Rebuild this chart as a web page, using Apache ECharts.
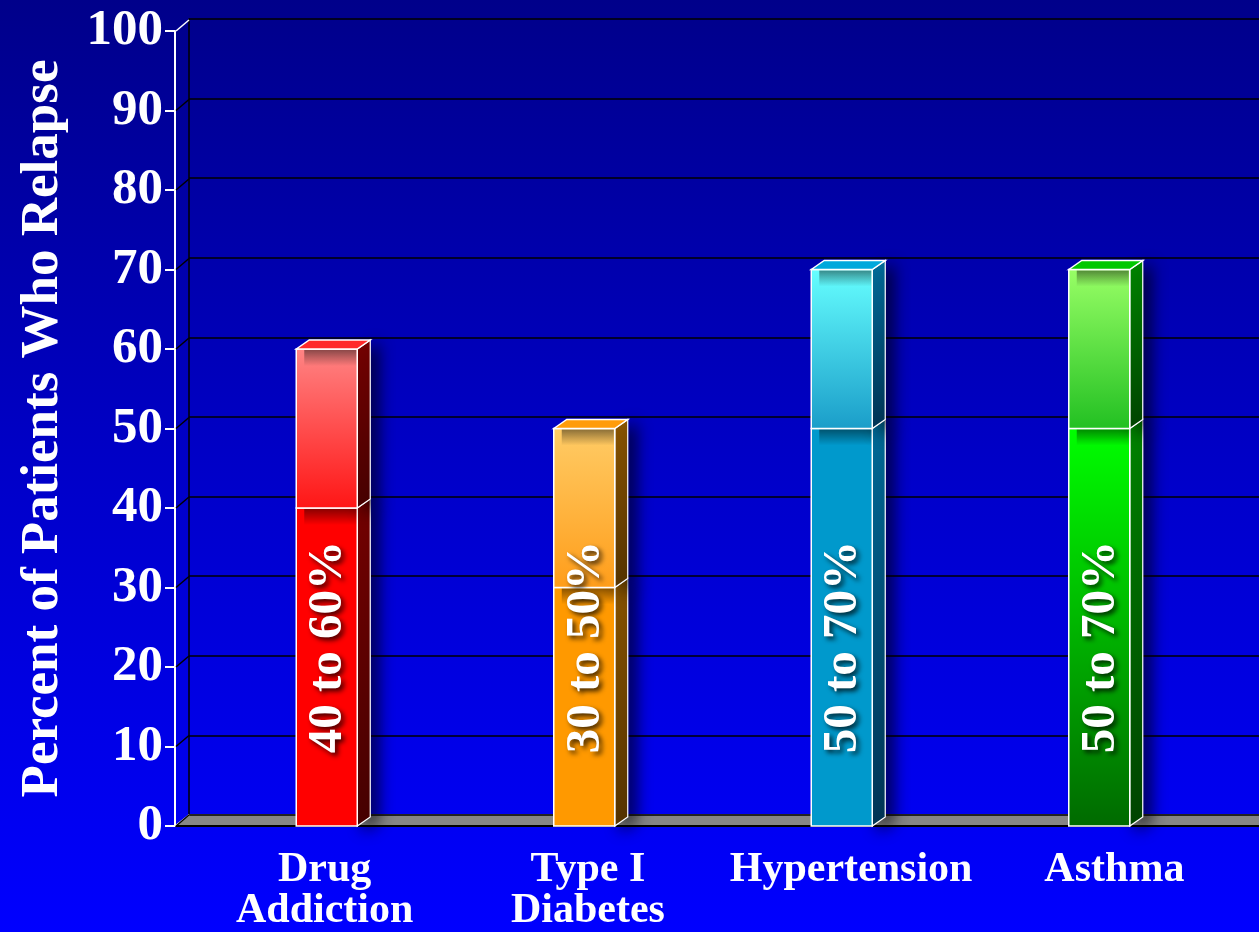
<!DOCTYPE html>
<html>
<head>
<meta charset="utf-8">
<script src="https://cdn.jsdelivr.net/npm/echarts@6/dist/echarts.min.js"></script>
<style>
  html, body { margin: 0; padding: 0; background: #0000c0; }
  #chart { width: 1259px; height: 932px; }
</style>
</head>
<body>
<div id="chart"></div>
<script>
// ---- data ----
const categories = ['Drug\nAddiction', 'Type I\nDiabetes', 'Hypertension', 'Asthma'];
const lowValues = [40, 30, 50, 50];
const highValues = [60, 50, 70, 70];
const rangeLabels = ['40 to 60%', '30 to 50%', '50 to 70%', '50 to 70%'];
const yTicks = [0, 10, 20, 30, 40, 50, 60, 70, 80, 90, 100];
const yTitle = 'Percent of Patients Who Relapse';

// ---- styles ----
const SERIF = '"Liberation Serif", "Times New Roman", serif';
const barStyles = [
  { lowTop: '#ff0000', lowBot: '#ff0000', upTop: '#ff8585', upBot: '#ff1515', sideTop: '#7a0000', sideBot: '#4a0000', top: '#ff2a2a' },
  { lowTop: '#ff9900', lowBot: '#ff9900', upTop: '#ffcc66', upBot: '#ff9d1a', sideTop: '#8f5800', sideBot: '#5a3600', top: '#ff9c0a' },
  { lowTop: '#0099cc', lowBot: '#0099cc', upTop: '#66ffff', upBot: '#1a9dc9', sideTop: '#0070a0', sideBot: '#00375a', top: '#00a8dc' },
  { lowTop: '#00ff00', lowBot: '#006a00', upTop: '#99ff66', upBot: '#22c022', sideTop: '#008a00', sideBot: '#004800', top: '#00c800' }
];
const AXIS_OFFSET = 23;       // front y-axis sits left of the category band
const WALL_DX = 14, WALL_DY = -11;
const BAR_W = 61, BAR_DX = 13, BAR_DY = -9;
const LABEL_ANCHOR = 22.5;

function vgrad(c1, c2) {
  return new echarts.graphic.LinearGradient(0, 0, 0, 1, [{ offset: 0, color: c1 }, { offset: 1, color: c2 }]);
}

const chart = echarts.init(document.getElementById('chart'), null, { renderer: 'canvas' });

const option = {
  backgroundColor: new echarts.graphic.LinearGradient(0, 0, 0, 1, [
    { offset: 0, color: '#00008a' },
    { offset: 0.5, color: '#0000c8' },
    { offset: 1, color: '#0000ff' }
  ]),
  animation: false,
  grid: [
    { left: 189, right: 0, top: 19, bottom: 117 },
    { left: 198, right: 31, top: 31, bottom: 106 },
    { left: 193, right: 13, top: 31, bottom: 106 }
  ],
  xAxis: [
    { gridIndex: 0, type: 'category', data: categories, position: 'top',
      axisLine: { show: true, lineStyle: { color: '#8a8a8a', width: 2 } },
      axisTick: { show: false }, axisLabel: { show: false }, splitLine: { show: false } },
    { gridIndex: 1, type: 'category', data: categories,
      axisLine: { show: false }, axisTick: { show: false }, axisLabel: { show: false } },
    { gridIndex: 2, type: 'category', data: categories,
      axisLine: { show: false }, axisTick: { show: false },
      axisLabel: { color: '#ffffff', fontFamily: SERIF, fontWeight: 'bold', fontSize: 42, lineHeight: 41, margin: 25, interval: 0 } }
  ],
  yAxis: [
    { gridIndex: 0, type: 'value', min: 0, max: 100, interval: 10,
      axisLine: { show: true, lineStyle: { color: '#000000', width: 1.5 } },
      axisTick: { show: false }, axisLabel: { show: false },
      splitLine: { show: true, lineStyle: { color: '#000000', width: 1.5 } } },
    { gridIndex: 1, type: 'value', min: 0, max: 100, interval: 10, offset: AXIS_OFFSET,
      axisLine: { show: true, lineStyle: { color: '#ffffff', width: 2 } },
      axisTick: { show: true, length: 10, lineStyle: { color: '#ffffff', width: 2 } },
      axisLabel: { color: '#ffffff', fontFamily: SERIF, fontWeight: 'bold', fontSize: 51, margin: 12 },
      splitLine: { show: false },
      name: yTitle, nameLocation: 'middle', nameGap: 105,
      nameTextStyle: { color: '#ffffff', fontFamily: SERIF, fontWeight: 'bold', fontSize: 53 } },
    { gridIndex: 2, type: 'value', min: 0, max: 100, show: false }
  ],
  series: [
    { // floor
      type: 'custom', xAxisIndex: 1, yAxisIndex: 1, silent: true, z: 1,
      data: [[0, 0]],
      renderItem: function (params, api) {
        const cs = params.coordSys;
        const y0 = api.coord([0, 0])[1];
        const xF = cs.x - AXIS_OFFSET;
        const W = api.getWidth();
        return { type: 'group', children: [
          { type: 'polygon', shape: { points: [[xF, y0], [xF + WALL_DX, y0 + WALL_DY], [W, y0 + WALL_DY], [W, y0]] },
            style: { fill: '#858585' } },
          { type: 'line', shape: { x1: xF, y1: y0, x2: W, y2: y0 }, style: { stroke: '#000', lineWidth: 2 } },
          { type: 'line', shape: { x1: xF + WALL_DX, y1: y0 + WALL_DY, x2: W, y2: y0 + WALL_DY }, style: { stroke: '#000', lineWidth: 1.5 } },
          { type: 'line', shape: { x1: xF, y1: y0, x2: xF + WALL_DX, y2: y0 + WALL_DY }, style: { stroke: '#fff', lineWidth: 1.5 } }
        ] };
      }
    },
    { // connectors from front ticks to back wall
      type: 'custom', xAxisIndex: 1, yAxisIndex: 1, silent: true, z: 2,
      data: yTicks.map(v => [0, v]),
      renderItem: function (params, api) {
        const cs = params.coordSys;
        const y = api.coord([0, api.value(1)])[1];
        const xF = cs.x - AXIS_OFFSET;
        return { type: 'line', shape: { x1: xF + 1, y1: y, x2: xF + WALL_DX, y2: y + WALL_DY },
          style: { stroke: api.value(1) === 100 ? '#ffffff' : '#000000', lineWidth: 1.5 } };
      }
    },
    { // 3D stacked range bars
      type: 'custom', xAxisIndex: 1, yAxisIndex: 1, z: 5,
      data: categories.map((c, i) => [i, lowValues[i], highValues[i]]),
      encode: { x: 0, y: [1, 2] },
      renderItem: function (params, api) {
        const i = api.value(0);
        const lo = api.value(1), hi = api.value(2);
        const p0 = api.coord([i, 0]);
        const yl = api.coord([i, lo])[1];
        const yh = api.coord([i, hi])[1];
        const y0 = p0[1];
        const cx = p0[0];
        const L = cx - BAR_W / 2, R = cx + BAR_W / 2;
        const st = barStyles[i];
        const children = [];
        function seg(yb, yt, frontFill) {
          children.push({ type: 'polygon',
            shape: { points: [[R, yt], [R + BAR_DX, yt + BAR_DY], [R + BAR_DX, yb + BAR_DY], [R, yb]] },
            style: { fill: vgrad(st.sideTop, st.sideBot), stroke: '#ffffff', lineWidth: 1.2,
              shadowBlur: 16, shadowColor: 'rgba(0,0,0,0.75)', shadowOffsetX: 7, shadowOffsetY: 4 } });
          children.push({ type: 'rect', shape: { x: L, y: yt, width: BAR_W, height: yb - yt },
            style: { fill: frontFill, stroke: '#ffffff', lineWidth: 1.5 } });
          children.push({ type: 'rect', shape: { x: L + 8, y: yt + 1, width: BAR_W - 9, height: 16 },
            style: { fill: vgrad('rgba(0,0,0,0.45)', 'rgba(0,0,0,0)') } });
        }
        seg(y0, yl, vgrad(st.lowTop, st.lowBot));
        seg(yl, yh, vgrad(st.upTop, st.upBot));
        children.push({ type: 'polygon',
          shape: { points: [[L, yh], [L + BAR_DX, yh + BAR_DY], [R + BAR_DX, yh + BAR_DY], [R, yh]] },
          style: { fill: st.top, stroke: '#ffffff', lineWidth: 1.5 } });
        const ly = api.coord([i, LABEL_ANCHOR])[1];
        children.push({ type: 'text', x: cx + 2, y: ly, rotation: Math.PI / 2,
          style: { text: rangeLabels[i], fill: '#ffffff', fontFamily: SERIF, fontWeight: 'bold', fontSize: 49,
            align: 'center', verticalAlign: 'middle',
            textShadowColor: 'rgba(0,0,0,0.75)', textShadowBlur: 5, textShadowOffsetX: 3, textShadowOffsetY: 3 } });
        return { type: 'group', children: children };
      }
    }
  ]
};
chart.setOption(option);
</script>
</body>
</html>
